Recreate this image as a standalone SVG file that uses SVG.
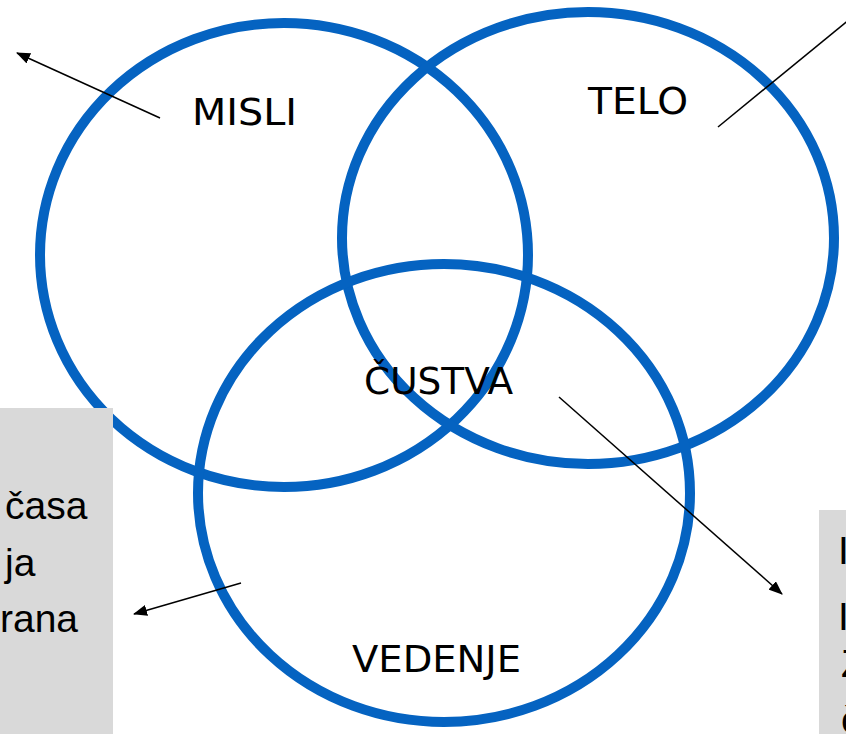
<svg xmlns="http://www.w3.org/2000/svg" width="846" height="734" viewBox="0 0 846 734">
<style>
.ring{fill:none;stroke:#0563C1;stroke-width:10}
.lbl{font-family:"DejaVu Sans",Verdana,sans-serif;font-size:38px;fill:#000}
.box{fill:#D9D9D9}
.bt{font-family:"Liberation Sans",Arial,sans-serif;font-size:39px;fill:#000}
.con{stroke:#000;stroke-width:1.5;fill:none}
</style>
<defs>
<marker id="ah" viewBox="0 0 14 11" refX="13" refY="5.5" markerWidth="14" markerHeight="11" markerUnits="userSpaceOnUse" orient="auto">
<path d="M0,0 L14,5.5 L0,11 z" fill="#000"/>
</marker>
</defs>
<rect width="846" height="734" fill="#fff"/>
<g id="misli">
<ellipse class="ring" cx="284" cy="255" rx="244" ry="232"/>
<text class="lbl" x="192" y="125" textLength="105" lengthAdjust="spacingAndGlyphs">MISLI</text>
</g>
<g id="telo">
<ellipse class="ring" cx="588" cy="238" rx="246" ry="226"/>
<text class="lbl" x="588" y="114" textLength="100" lengthAdjust="spacingAndGlyphs">TELO</text>
</g>
<g id="vedenje">
<ellipse class="ring" cx="444" cy="493" rx="246" ry="229"/>
<text class="lbl" x="352" y="672" textLength="169" lengthAdjust="spacingAndGlyphs">VEDENJE</text>
</g>
<g id="custva">
<text class="lbl" x="364" y="394" textLength="149" lengthAdjust="spacingAndGlyphs">ČUSTVA</text>
</g>
<g id="box-left">
<rect class="box" x="0" y="408" width="113" height="326"/>
<text class="bt" x="5" y="519">časa</text>
<text class="bt" x="5" y="576">ja</text>
<text class="bt" x="0" y="632">rana</text>
</g>
<g id="box-right">
<rect class="box" x="819" y="510" width="27" height="224"/>
<text class="bt" x="838" y="564">I</text>
<text class="bt" x="838" y="630">I</text>
<text class="bt" x="841" y="677">Z</text>
<text class="bt" x="841" y="733">č</text>
</g>
<g id="connectors">
<line class="con" x1="160" y1="118" x2="17" y2="53" marker-end="url(#ah)"/>
<line class="con" x1="718" y1="127" x2="856" y2="14"/>
<line class="con" x1="559" y1="397" x2="782" y2="594" marker-end="url(#ah)"/>
<line class="con" x1="241" y1="583" x2="134" y2="614" marker-end="url(#ah)"/>
</g>
</svg>
